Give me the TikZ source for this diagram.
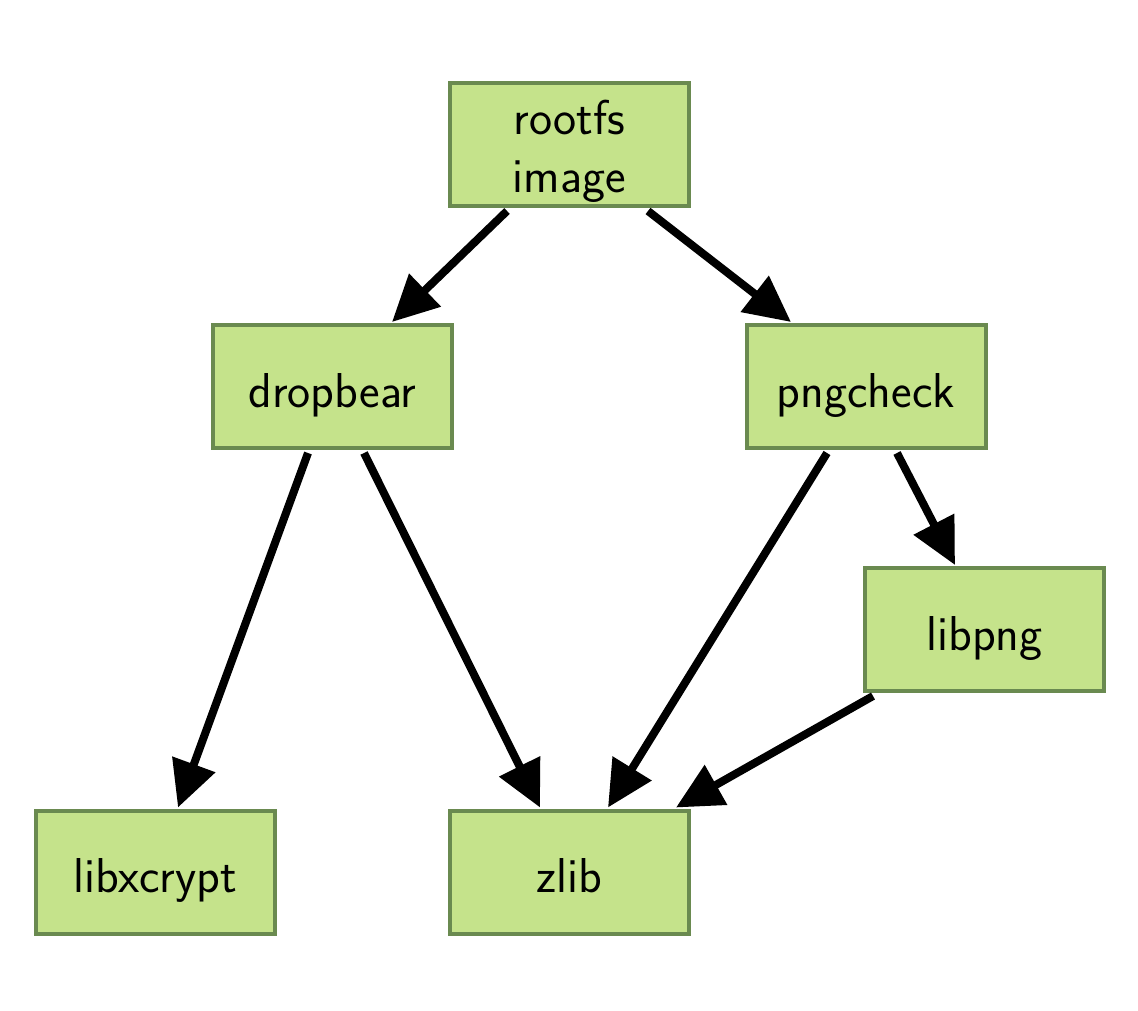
\documentclass[tikz,border=0pt]{standalone}
\usetikzlibrary{arrows.meta,calc}
\definecolor{boxfill}{RGB}{197,227,139}
\definecolor{boxline}{RGB}{106,138,80}
\begin{document}
\begin{tikzpicture}[x=0.5pt,y=-0.5pt,
  pkg/.style={draw=boxline,fill=boxfill,line width=2pt,minimum width=119.5pt,minimum height=61.5pt,inner sep=0pt,text height=20.5pt,text depth=0pt,font=\sffamily\fontsize{24.5}{29}\selectfont},
  dep/.style={line width=4pt,-{Triangle[length=23pt,width=22pt]}}]
\useasboundingbox (0,0) rectangle (1138,1010);
\node[pkg,text height=48.5pt] (root) at (569.5,144.5) {\begin{tabular}[b]{@{}c@{}}rootfs\\image\end{tabular}};
\node[pkg] (drop) at (332.5,386.5) {dropbear};
\node[pkg] (png) at (866,386.5) {pngcheck};
\node[pkg] (lpng) at (984.5,629.5) {libpng};
\node[pkg] (xc) at (155.5,872) {libxcrypt};
\node[pkg] (z) at (569.5,872) {zlib};
\draw[dep] ($(root.south)+(-62.5,3)$) -- ($(drop.north)+(59.5,-1)$);
\draw[dep] ($(root.south)+(78.5,3)$) -- ($(png.north)+(-75,-1)$);
\draw[dep] ($(drop.south)+(-24.5,3)$) -- ($(xc.north)+(22.5,-1)$);
\draw[dep] ($(drop.south)+(31.5,3)$) -- ($(z.north)+(-29.5,-1)$);
\draw[dep] ($(png.south)+(-39,3)$) -- ($(z.north)+(38.5,-1)$);
\draw[dep] ($(png.south)+(31,3)$) -- ($(lpng.north)+(-29.5,-1)$);
\draw[dep] ($(lpng.south)+(-111.5,3)$) -- ($(z.north)+(106.5,-1)$);
\end{tikzpicture}
\end{document}
